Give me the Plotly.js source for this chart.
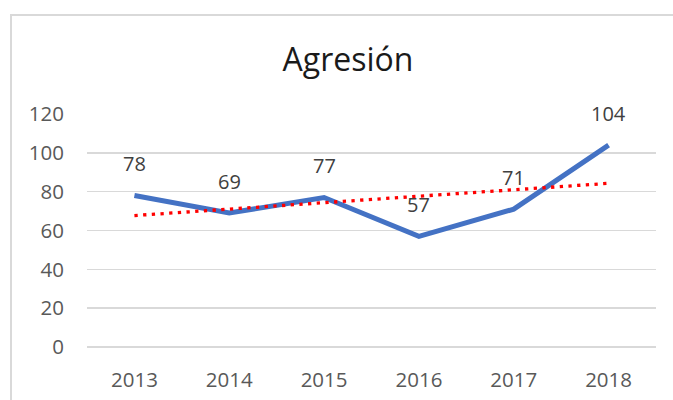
<!DOCTYPE html>
<html>
<head>
<meta charset="utf-8">
<script src="https://cdn.plot.ly/plotly-3.0.1.min.js"></script>
<style>
html,body{margin:0;padding:0;background:#fff;}
#chart{width:673px;height:400px;}
</style>
</head>
<body>
<div id="chart"></div>
<script>
const years = ['2013', '2014', '2015', '2016', '2017', '2018'];
const values = [78, 69, 77, 57, 71, 104];
const trendYears = ['2013', '2018'];
const trendValues = [67.7, 84.3];
const yTicks = [0, 20, 40, 60, 80, 100, 120];

const FONT = '"Open Sans", "Noto Sans", sans-serif';

const traces = [
  {
    x: years, y: values, type: 'scatter', mode: 'lines',
    line: {color: '#4472C4', width: 5},
    hoverinfo: 'skip', showlegend: false
  },
  {
    x: trendYears, y: trendValues, type: 'scatter', mode: 'lines',
    line: {color: '#FF0000', width: 3.3, dash: '3.3px,5.4px'},
    hoverinfo: 'skip', showlegend: false
  }
];

// category axis: annotations positioned by category index
const annotations = years.map((yr, i) => ({
  x: years.indexOf(yr), y: values[i], xref: 'x', yref: 'y',
  text: String(values[i]), showarrow: false, yshift: 32,
  font: {family: FONT, size: 20, color: '#404040'}
}));

const layout = {
  width: 673, height: 400,
  margin: {l: 87, r: 17, t: 114, b: 53, pad: 0},
  paper_bgcolor: '#ffffff', plot_bgcolor: 'rgba(0,0,0,0)',
  title: {
    text: 'Agresión',
    font: {family: FONT, size: 32, color: '#1a1a1a'},
    x: 348 / 673, xanchor: 'center', xref: 'container',
    y: 1 - 60 / 400, yanchor: 'middle', yref: 'container'
  },
  xaxis: {
    type: 'category', categoryorder: 'array', categoryarray: years,
    range: [-0.5, 5.5], showgrid: false, zeroline: false,
    showline: false, ticks: '',
    ticklabelstandoff: 18,
    tickfont: {family: FONT, size: 20.5, color: '#595959'},
    fixedrange: true
  },
  yaxis: {
    range: [0, 120], tickmode: 'array', tickvals: yTicks,
    ticktext: yTicks.map(String),
    showgrid: true, gridcolor: '#d9d9d9', gridwidth: 1.5,
    zeroline: true, zerolinecolor: '#d9d9d9', zerolinewidth: 1.5,
    showline: false, ticks: '',
    ticklabelstandoff: 22,
    tickfont: {family: FONT, size: 20.5, color: '#595959'},
    fixedrange: true
  },
  annotations: annotations,
  shapes: [{
    type: 'rect', xref: 'paper', yref: 'paper', layer: 'below',
    x0: (11 - 87) / 569, x1: 1.2,
    y0: -0.5, y1: (347 - 15) / 233,
    line: {color: '#d9d9d9', width: 2}, fillcolor: 'rgba(0,0,0,0)'
  }]
};

Plotly.newPlot('chart', traces, layout, {displayModeBar: false, staticPlot: true});
</script>
</body>
</html>
